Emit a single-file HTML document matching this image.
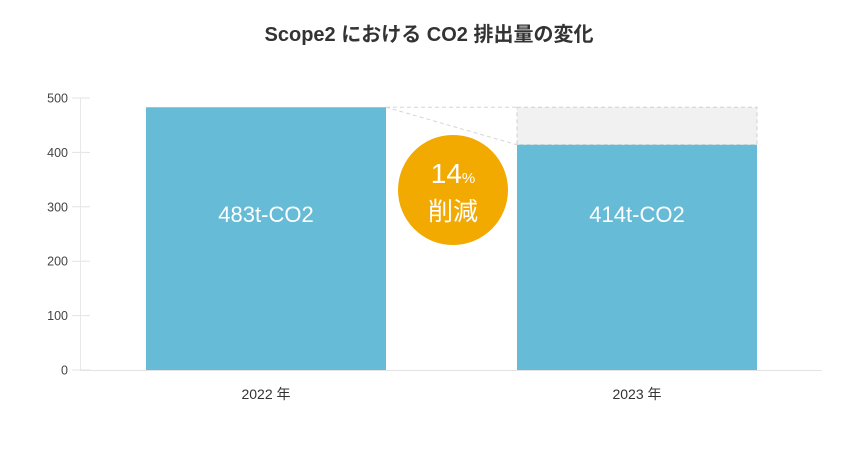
<!DOCTYPE html>
<html><head><meta charset="utf-8">
<style>
body{margin:0;background:#fff;width:858px;height:450px;overflow:hidden;font-family:"Liberation Sans","Noto Sans CJK JP",sans-serif;}
svg text{font-family:"Liberation Sans","Noto Sans CJK JP",sans-serif;}
</style></head>
<body>
<svg id="chart" width="858" height="450" xmlns="http://www.w3.org/2000/svg">
<text x="429" y="41" text-anchor="middle" font-size="20" font-weight="bold" fill="#333">Scope2 における CO2 排出量の変化</text>
<g id="axes"></g>
<g id="bars"></g>
</svg>
<script>
const categories = ["2022 年", "2023 年"];
const values = [483, 414];
const valueLabels = ["483t-CO2", "414t-CO2"];
const yTicks = [0, 100, 200, 300, 400, 500];
const reductionLabel = "14";

const NS = "http://www.w3.org/2000/svg";
const y0 = 370, yTop = 98, yMax = 500;
const yScale = v => y0 - v / yMax * (y0 - yTop);
const barW = 240;
const xCenter = i => 266 + i * 371;
function mk(tag, attrs, parent){const e=document.createElementNS(NS,tag);for(const k in attrs)e.setAttribute(k,attrs[k]);parent.appendChild(e);return e;}
const axes=document.getElementById('axes'), bars=document.getElementById('bars');

yTicks.forEach(t=>{
  const y=yScale(t);
  const l=mk('line',{x1:72,x2:90,y1:y,y2:y,stroke:'#e3e3e3','stroke-width':1},axes);
  
  
  const tx=mk('text',{x:68,y:y+4.5,'text-anchor':'end','font-size':12.5,fill:'#444'},axes);
  tx.textContent=t;
  
  
});
const ya=mk('line',{x1:80.5,x2:80.5,y1:yTop,y2:y0,stroke:'#e8e8e8'},axes);


const xa=mk('line',{x1:80,x2:822,y1:y0+0.5,y2:y0+0.5,stroke:'#e3e3e3'},axes);



// ghost of previous value over second bar
const xL=xCenter(1)-barW/2, xR=xCenter(1)+barW/2, xPrevR=xCenter(0)+barW/2;
const ghost=mk('rect',{x:xL,y:yScale(values[0]),width:barW,height:yScale(values[1])-yScale(values[0]),fill:'#f1f1f1',stroke:'#cfcfcf','stroke-dasharray':'4 3'},bars);


const ln=mk('polyline',{points:`${xPrevR},${yScale(values[0])} ${xL},${yScale(values[0])}`,fill:'none',stroke:'#d5d5d5','stroke-dasharray':'4 3'},bars);


const dl=mk('line',{x1:xPrevR,y1:yScale(values[0]),x2:xL,y2:yScale(values[1]),stroke:'#d5d5d5','stroke-dasharray':'4 3'},bars);



values.forEach((v,i)=>{
  const r=mk('rect',{x:xCenter(i)-barW/2,y:yScale(v),width:barW,height:y0-yScale(v),fill:'#66bbd6'},bars);
  
  
  const t=mk('text',{x:xCenter(i),y:222,'text-anchor':'middle','font-size':22,fill:'#fff'},bars);
  t.textContent=valueLabels[i];
  
  
  const c=mk('text',{x:xCenter(i),y:399,'text-anchor':'middle','font-size':14,fill:'#333'},axes);
  c.textContent=categories[i];
  
  
});

const badge=mk('g',{},bars);


mk('circle',{cx:453,cy:190,r:55,fill:'#f2a900'},badge);
const b1=mk('text',{x:453,y:183,'text-anchor':'middle',fill:'#fff','font-size':28},badge);
b1.innerHTML=reductionLabel+'<tspan font-size="15">%</tspan>';
const b2=mk('text',{x:453,y:220,'text-anchor':'middle',fill:'#fff','font-size':25},badge);
b2.textContent='削減';
</script>
</body></html>
